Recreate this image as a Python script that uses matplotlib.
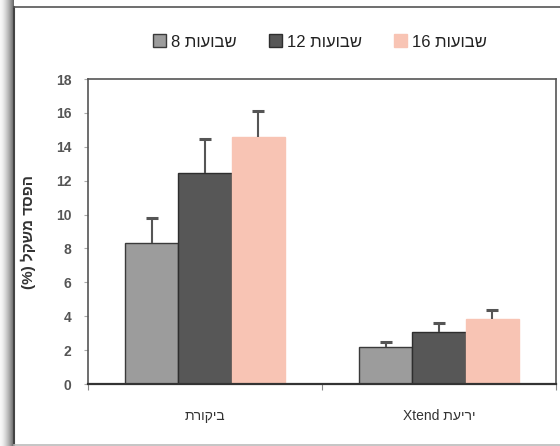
import matplotlib
matplotlib.use("Agg")
import matplotlib.pyplot as plt
import numpy as np
from matplotlib.patches import Rectangle

plt.rcParams['font.family'] = ['Liberation Sans', 'DejaVu Sans']

categories = ["תרוקיב", "Xtend תעירי"]
series_labels = ["8 תועובש", "12 תועובש", "16 תועובש"]
values_8 = [8.3, 2.2]
values_12 = [12.45, 3.07]
values_16 = [14.58, 3.85]
err_8 = [1.48, 0.3]
err_12 = [2.0, 0.53]
err_16 = [1.53, 0.53]
y_ticks = [0, 2, 4, 6, 8, 10, 12, 14, 16, 18]
y_label = "(%) לקשמ דספה"

series = [values_8, values_12, values_16]
errors = [err_8, err_12, err_16]
colors = ["#9c9c9c", "#575757", "#f8c4b4"]
edges = ["#3a3a3a", "#2e2e2e", "#f8c4b4"]

fig = plt.figure(figsize=(5.6, 4.46), dpi=100)

# scanned frame decoration
W, H = 560, 446
for i in range(14):
    shade = 0.97 - 0.55 * (i / 13.0) ** 1.5
    fig.patches.append(Rectangle((i / W, 0), 1 / W, 1, transform=fig.transFigure,
                                 facecolor=(shade, shade, shade), edgecolor='none', zorder=0))
fig.add_artist(plt.Line2D([14 / W, 14 / W], [0, 1 - 7 / H], transform=fig.transFigure,
                          color="#444444", lw=1.5))
fig.add_artist(plt.Line2D([14 / W, 1], [1 - 7 / H, 1 - 7 / H], transform=fig.transFigure,
                          color="#555555", lw=1.2))
fig.add_artist(plt.Line2D([14 / W, 1], [1 / H, 1 / H], transform=fig.transFigure,
                          color="#bbbbbb", lw=1.2))

ax = fig.add_axes([88 / W, 1 - 384 / H, (556 - 88) / W, (384 - 79) / H])

x = np.arange(len(categories))
bw = 0.228
offsets = [-bw, 0, bw]
handles = []
for s, e, c, ec, off, lab in zip(series, errors, colors, edges, offsets, series_labels):
    h = ax.bar(x + off, s, width=bw, color=c, edgecolor=ec, linewidth=1.0, label=lab, zorder=2)
    eb = ax.errorbar(x + off, s, yerr=[np.zeros(len(e)), e], fmt='none', ecolor="#555555",
                     elinewidth=1.5, capsize=4, capthick=2.2, zorder=3)
    caps = eb.lines[1]
    if len(caps) >= 2:
        caps[0].set_visible(False)
    handles.append(h)

ax.set_xlim(-0.5, 1.5)
ax.set_ylim(0, 18)
ax.set_yticks(y_ticks)
ax.set_xticks([-0.5, 0.5, 1.5], minor=False)
ax.set_xticklabels([])
ax.set_xticks(x, minor=True)
ax.set_xticklabels(categories, minor=True)
ax.tick_params(axis='x', which='minor', length=0, pad=18, labelsize=10, labelcolor="#333333")
ax.tick_params(axis='x', which='major', length=4, color="#888888")
ax.tick_params(axis='y', length=3, color="#aaaaaa", labelsize=10, labelcolor="#555555", pad=9)
for lbl in ax.get_yticklabels():
    lbl.set_fontweight('bold')

for sp in ax.spines.values():
    sp.set_color("#555555")
    sp.set_linewidth(1.2)
ax.spines['bottom'].set_linewidth(1.6)
ax.spines['bottom'].set_color("#333333")

ax.set_ylabel(y_label, fontsize=11, color="#333333", fontweight='bold', labelpad=14)

leg = fig.legend(handles=handles, labels=series_labels, loc='center', bbox_to_anchor=(320 / W, 1 - 42 / H),
                 ncol=3, frameon=False, fontsize=12, handlelength=0.8, handleheight=0.8,
                 handletextpad=0.3, columnspacing=1.9)
for t in leg.get_texts():
    t.set_color("#222222")

fig.savefig("out.png", dpi=100)
